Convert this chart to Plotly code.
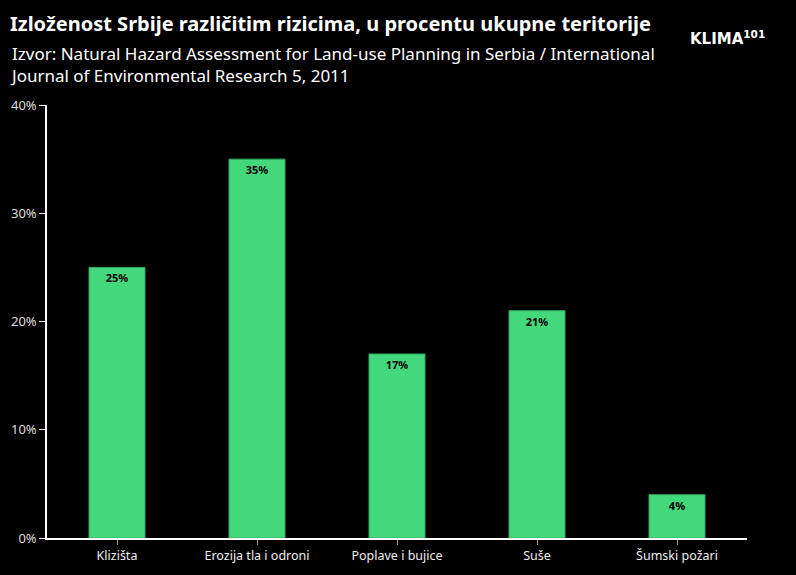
import plotly.graph_objects as go

categories = ["Klizišta", "Erozija tla i odroni", "Poplave i bujice", "Suše", "Šumski požari"]
values = [25, 35, 17, 21, 4]
y_ticks = [0, 10, 20, 30, 40]
y_tick_labels = ["0%", "10%", "20%", "30%", "40%"]

title = "Izloženost Srbije različitim rizicima, u procentu ukupne teritorije"
subtitle = "Izvor: Natural Hazard Assessment for Land-use Planning in Serbia / International<br>Journal of Environmental Research 5, 2011"

FONT = "Noto Sans"

fig = go.Figure(go.Bar(
    x=categories,
    y=values,
    width=0.4,
    marker=dict(color="#44d87c", line=dict(color="#2fa862", width=1)),
    text=[f"{v}%" for v in values],
    textposition="inside",
    insidetextanchor="end",
    textangle=0,
    textfont=dict(family=FONT, size=11, color="#000000", weight="bold"),
    hoverinfo="skip",
))

fig.update_layout(
    width=796, height=575,
    paper_bgcolor="#000000", plot_bgcolor="#000000",
    margin=dict(l=47, r=49, t=105, b=37),
    showlegend=False,
    font=dict(family=FONT, color="#e6e6e6", size=12),
    uniformtext=dict(minsize=8, mode="show"),
)

fig.update_yaxes(
    range=[0, 40], tickvals=y_ticks, ticktext=y_tick_labels,
    showgrid=False, zeroline=False,
    showline=True, linecolor="#ffffff", linewidth=1.5,
    ticks="outside", ticklen=6, tickcolor="#ffffff", tickwidth=1,
    tickfont=dict(family=FONT, size=13, color="#dddddd"),
)
fig.update_xaxes(
    showgrid=False, zeroline=False,
    showline=True, linecolor="#ffffff", linewidth=1.5,
    ticks="outside", ticklen=5, tickcolor="#999999", tickwidth=1,
    tickfont=dict(family=FONT, size=12.5, color="#eeeeee"),
)

fig.add_annotation(text=f"<b>{title}</b>", xref="paper", yref="paper",
                   x=-47/700, y=1 + (105 - 8)/433, xanchor="left", yanchor="top",
                   showarrow=False, font=dict(family=FONT, size=20, color="#ffffff"),
                   xshift=8)
fig.add_annotation(text=subtitle, xref="paper", yref="paper",
                   x=-47/700, y=1 + (105 - 40)/433, xanchor="left", yanchor="top",
                   align="left", showarrow=False,
                   font=dict(family=FONT, size=17, color="#ffffff"), xshift=8)
fig.add_annotation(text="<b>KLIMA</b><sup><b>101</b></sup>", xref="paper", yref="paper",
                   x=1 + 20/700, y=1 + (105 - 26)/433, xanchor="right", yanchor="top",
                   showarrow=False, font=dict(family="DejaVu Sans", size=15, color="#ffffff"))

fig.write_html("out.html", config={"displayModeBar": False},
               post_script="document.body.style.margin='0';document.body.style.overflow='hidden';")
